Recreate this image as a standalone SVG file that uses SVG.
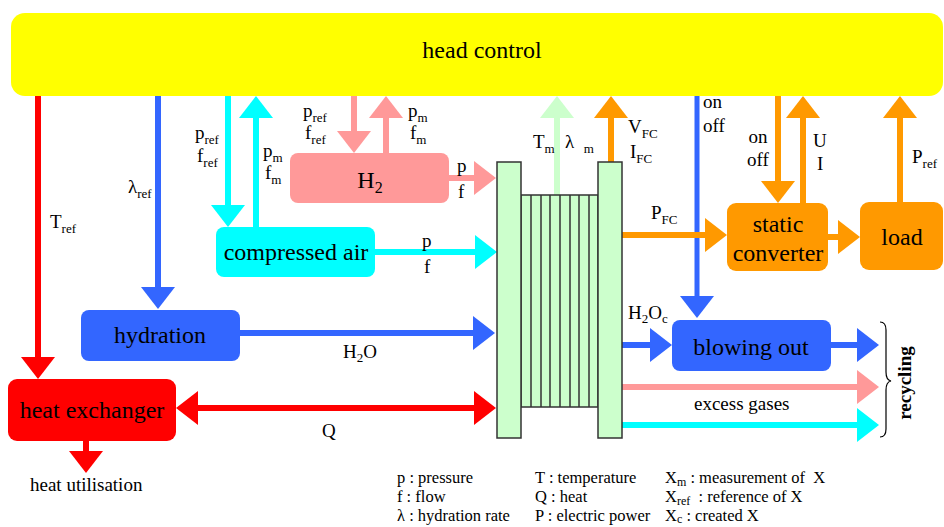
<svg xmlns="http://www.w3.org/2000/svg" width="944" height="527" viewBox="0 0 944 527" font-family="'Liberation Serif', 'DejaVu Serif', 'Noto Serif', Tinos, 'Times New Roman', serif">
<style>
text{font-family:'Liberation Serif','DejaVu Serif','Noto Serif',Tinos,'Times New Roman',serif;fill:#000}
.big{font-size:24px}
.lab{font-size:19px}
.leg{font-size:16.5px}
.sub{font-size:13px}
.lsub{font-size:12px}
.ln{fill:none;stroke-width:6}
.red{stroke:#ff0000}.blue{stroke:#3366ff}.cyan{stroke:#00ffff}.pink{stroke:#ff9999}.orange{stroke:#ff9900}.green{stroke:#ccffcc}
.cell{fill:#ccffcc;stroke:#333;stroke-width:1.5}
</style>
<defs>
<marker id="aR" markerUnits="userSpaceOnUse" viewBox="0 0 22 34" markerWidth="22" markerHeight="34" refX="1" refY="17" orient="auto-start-reverse"><path d="M0,0L22,17L0,34z" fill="#ff0000"/></marker>
<marker id="aB" markerUnits="userSpaceOnUse" viewBox="0 0 22 34" markerWidth="22" markerHeight="34" refX="1" refY="17" orient="auto"><path d="M0,0L22,17L0,34z" fill="#3366ff"/></marker>
<marker id="aC" markerUnits="userSpaceOnUse" viewBox="0 0 22 34" markerWidth="22" markerHeight="34" refX="1" refY="17" orient="auto"><path d="M0,0L22,17L0,34z" fill="#00ffff"/></marker>
<marker id="aP" markerUnits="userSpaceOnUse" viewBox="0 0 22 34" markerWidth="22" markerHeight="34" refX="1" refY="17" orient="auto"><path d="M0,0L22,17L0,34z" fill="#ff9999"/></marker>
<marker id="aO" markerUnits="userSpaceOnUse" viewBox="0 0 22 34" markerWidth="22" markerHeight="34" refX="1" refY="17" orient="auto"><path d="M0,0L22,17L0,34z" fill="#ff9900"/></marker>
<marker id="aG" markerUnits="userSpaceOnUse" viewBox="0 0 22 34" markerWidth="22" markerHeight="34" refX="1" refY="17" orient="auto"><path d="M0,0L22,17L0,34z" fill="#ccffcc"/></marker>
</defs>

<g id="connectors">
<path class="ln red" d="M38,96V358" marker-end="url(#aR)"/>
<path class="ln red" d="M86,441V452" marker-end="url(#aR)"/>
<path class="ln red" d="M197,408H475" marker-start="url(#aR)" marker-end="url(#aR)"/>
<path class="ln blue" d="M158,96V288" marker-end="url(#aB)"/>
<path class="ln blue" d="M240,333H474" marker-end="url(#aB)"/>
<path class="ln blue" d="M697,96V297" style="stroke-width:5" marker-end="url(#aB)"/>
<path class="ln blue" d="M622,345H651" marker-end="url(#aB)"/>
<path class="ln blue" d="M831,345H858" marker-end="url(#aB)"/>
<path class="ln cyan" d="M228,96V206" marker-end="url(#aC)"/>
<path class="ln cyan" d="M256,227V117" marker-end="url(#aC)"/>
<path class="ln cyan" d="M375,252H476" marker-end="url(#aC)"/>
<path class="ln cyan" d="M622,425H858" marker-end="url(#aC)"/>
<path class="ln pink" d="M354,96V132" marker-end="url(#aP)"/>
<path class="ln pink" d="M386,153V117" marker-end="url(#aP)"/>
<path class="ln pink" d="M449,178H475" marker-end="url(#aP)"/>
<path class="ln pink" d="M622,387H858" marker-end="url(#aP)"/>
<path class="ln green" d="M557,195V117" marker-end="url(#aG)"/>
<path class="ln orange" d="M611,162V117" marker-end="url(#aO)"/>
<path class="ln orange" d="M622,235H706" marker-end="url(#aO)"/>
<path class="ln orange" d="M778,96V182" marker-end="url(#aO)"/>
<path class="ln orange" d="M803,203V117" marker-end="url(#aO)"/>
<path class="ln orange" d="M828,237H839" marker-end="url(#aO)"/>
<path class="ln orange" d="M900,202V117" marker-end="url(#aO)"/>
<path d="M880,322Q886,322 886,330V372Q886,380 891,381Q886,382 886,390V429Q886,437 880,437" fill="none" stroke="#000" stroke-width="1.2"/>
</g>

<g id="head-control">
<rect x="11" y="13" width="932" height="83" rx="14" fill="#ffff00"/>
<text class="big" x="482" y="58" text-anchor="middle">head control</text>
</g>

<g id="h2">
<rect x="290" y="153" width="159" height="50" rx="8" fill="#ff9999"/>
<text class="big" x="370" y="188" text-anchor="middle">H<tspan font-size="16" dy="5">2</tspan></text>
</g>

<g id="compressed-air">
<rect x="216" y="227" width="159" height="50" rx="8" fill="#00ffff"/>
<text class="big" x="296" y="260" text-anchor="middle">compressed air</text>
</g>

<g id="hydration">
<rect x="81" y="310" width="159" height="51" rx="8" fill="#3366ff"/>
<text class="big" x="160" y="343" text-anchor="middle">hydration</text>
</g>

<g id="heat-exchanger">
<rect x="8" y="379" width="168" height="62" rx="9" fill="#ff0000"/>
<text class="big" x="92" y="418" text-anchor="middle">heat exchanger</text>
</g>

<g id="fuel-cell">
<rect class="cell" x="521" y="195" width="77" height="212"/>
<path d="M531,195V407M541,195V407M550,195V407M560,195V407M570,195V407M579,195V407M589,195V407" stroke="#333" stroke-width="1.5"/>
<rect class="cell" x="497" y="162" width="24" height="276"/>
<rect class="cell" x="598" y="162" width="24" height="276"/>
</g>

<g id="static-converter">
<rect x="727" y="203" width="101" height="68" rx="9" fill="#ff9900"/>
<text class="big" x="778" y="232" text-anchor="middle">static</text>
<text class="big" x="778" y="261" text-anchor="middle">converter</text>
</g>

<g id="load">
<rect x="860" y="202" width="83" height="68" rx="9" fill="#ff9900"/>
<text class="big" x="902" y="245" text-anchor="middle">load</text>
</g>

<g id="blowing-out">
<rect x="672" y="320" width="159" height="51" rx="8" fill="#3366ff"/>
<text class="big" x="751" y="355" text-anchor="middle">blowing out</text>
</g>

<g id="labels">
<text class="lab" x="50" y="228">T<tspan class="sub" dy="5">ref</tspan></text>
<text class="lab" x="128" y="193">λ<tspan class="sub" dy="5">ref</tspan></text>
<text class="lab" x="195" y="139">p<tspan class="sub" dy="5">ref</tspan></text>
<text class="lab" x="197" y="162">f<tspan class="sub" dy="5">ref</tspan></text>
<text class="lab" x="263" y="157">p<tspan class="sub" dy="5">m</tspan></text>
<text class="lab" x="265" y="179">f<tspan class="sub" dy="5">m</tspan></text>
<text class="lab" x="303" y="117">p<tspan class="sub" dy="5">ref</tspan></text>
<text class="lab" x="305" y="139">f<tspan class="sub" dy="5">ref</tspan></text>
<text class="lab" x="408" y="117">p<tspan class="sub" dy="5">m</tspan></text>
<text class="lab" x="410" y="139">f<tspan class="sub" dy="5">m</tspan></text>
<text class="lab" x="457" y="172">p</text>
<text class="lab" x="458" y="198">f</text>
<text class="lab" x="422" y="247">p</text>
<text class="lab" x="424" y="273">f</text>
<text class="lab" x="533" y="148">T<tspan class="sub" dy="5">m</tspan></text>
<text class="lab" x="565" y="148" xml:space="preserve">λ  <tspan class="sub" dy="5">m</tspan></text>
<text class="lab" x="628" y="133">V<tspan class="sub" dy="5">FC</tspan></text>
<text class="lab" x="630" y="158">I<tspan class="sub" dy="5">FC</tspan></text>
<text class="lab" x="651" y="219">P<tspan class="sub" dy="5">FC</tspan></text>
<text class="lab" x="703" y="108">on</text>
<text class="lab" x="703" y="132">off</text>
<text class="lab" x="758" y="143" text-anchor="middle">on</text>
<text class="lab" x="758" y="166" text-anchor="middle">off</text>
<text class="lab" x="813" y="147">U</text>
<text class="lab" x="817" y="170">I</text>
<text class="lab" x="912" y="163">P<tspan class="sub" dy="5">ref</tspan></text>
<text class="lab" x="628" y="319">H<tspan class="sub" dy="4">2</tspan><tspan dy="-4">O</tspan><tspan class="sub" dy="4">c</tspan></text>
<text class="lab" x="343" y="358">H<tspan class="sub" dy="4">2</tspan><tspan dy="-4">O</tspan></text>
<text class="lab" x="322" y="437">Q</text>
<text class="lab" x="694" y="410">excess gases</text>
<text class="lab" x="30" y="491">heat utilisation</text>
<text class="lab" x="911" y="383" text-anchor="middle" font-weight="bold" transform="rotate(-90 911 383)">recycling</text>
</g>

<g id="legend">
<text class="leg" x="397" y="483">p : pressure</text>
<text class="leg" x="397" y="502">f : flow</text>
<text class="leg" x="397" y="521">λ : hydration rate</text>
<text class="leg" x="535" y="483">T : temperature</text>
<text class="leg" x="535" y="502">Q : heat</text>
<text class="leg" x="535" y="521">P : electric power</text>
<text class="leg" x="665" y="483" xml:space="preserve">X<tspan class="lsub" dy="3">m</tspan><tspan dy="-3"> : measurement of  X</tspan></text>
<text class="leg" x="665" y="502" xml:space="preserve">X<tspan class="lsub" dy="3">ref</tspan><tspan dy="-3">  : reference of X</tspan></text>
<text class="leg" x="665" y="521">X<tspan class="lsub" dy="2">c</tspan><tspan dy="-2"> : created X</tspan></text>
</g>
</svg>
